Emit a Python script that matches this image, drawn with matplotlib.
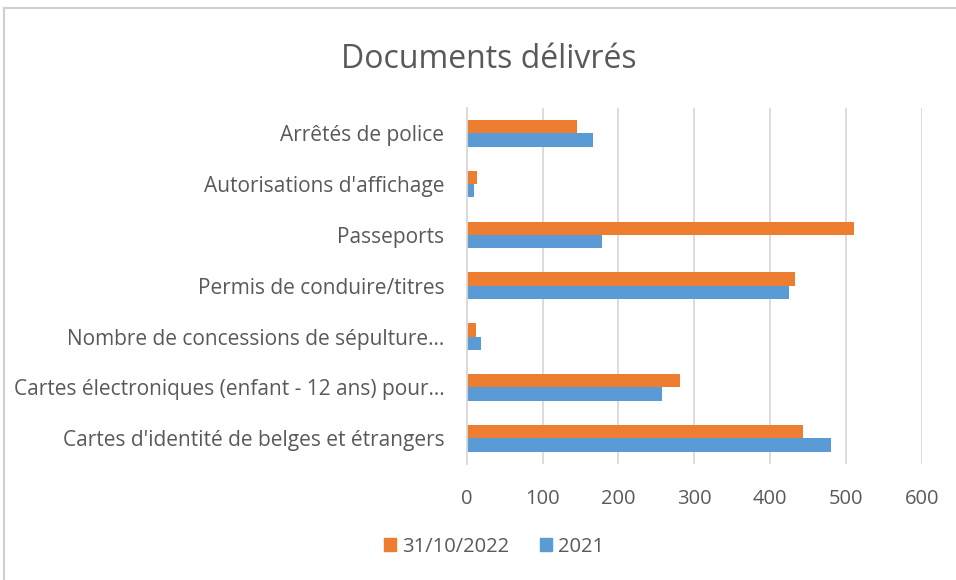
import matplotlib.pyplot as plt
import numpy as np
from matplotlib.lines import Line2D
from matplotlib.patches import Patch

# Categories, bottom to top (as drawn on the y axis)
categories = [
    "Cartes d'identité de belges et étrangers",
    "Cartes électroniques (enfant - 12 ans) pour…",
    "Nombre de concessions de sépulture…",
    "Permis de conduire/titres",
    "Passeports",
    "Autorisations d'affichage",
    "Arrêtés de police",
]
values_2022 = [443, 281, 12, 433, 511, 13, 146]
values_2021 = [480, 257, 19, 425, 178, 10, 166]
series_names = ["31/10/2022", "2021"]
x_ticks = [0, 100, 200, 300, 400, 500, 600]

orange = "#ED7D31"
blue = "#5B9BD5"
text_col = "#595959"
grid_col = "#D9D9D9"

plt.rcParams['font.family'] = ['Open Sans', 'DejaVu Sans']

fig = plt.figure(figsize=(9.56, 5.8), dpi=100)
ax = fig.add_axes([0.4882, 0.2005, 0.4759, 0.6135])

y = np.arange(len(categories))
h = 0.2625
ax.barh(y + h / 2, values_2022, h, color=orange, label=series_names[0])
ax.barh(y - h / 2, values_2021, h, color=blue, label=series_names[1])

ax.set_xlim(0, 600)
ax.set_ylim(-0.5, len(categories) - 0.5)
ax.set_xticks(x_ticks)
ax.set_yticks(y)
ax.set_yticklabels(categories)
ax.tick_params(axis='y', length=0, labelsize=15, colors=text_col, pad=16)
ax.tick_params(axis='x', length=0, labelsize=14.5, colors=text_col, pad=18)
ax.grid(axis='x', color=grid_col, linewidth=1.3)
ax.set_axisbelow(True)
for side in ['top', 'right', 'bottom']:
    ax.spines[side].set_visible(False)
ax.spines['left'].set_color(grid_col)
ax.spines['left'].set_linewidth(1.3)

fig.text(0.511, 0.898, "Documents délivrés", ha='center', va='center',
         fontsize=23, color=text_col)

handles = [Patch(color=orange), Patch(color=blue)]
fig.legend(handles, series_names, loc='center', bbox_to_anchor=(0.517, 0.057),
           ncol=2, frameon=False, fontsize=14.5, labelcolor=text_col,
           handlelength=0.6, handleheight=0.6, handletextpad=0.3,
           columnspacing=1.5)

# chart area border (top and left visible in the reference)
fig.add_artist(Line2D([0.004, 1.0], [0.986, 0.986], color="#D0D0D0", lw=1.5))
fig.add_artist(Line2D([0.004, 0.004], [0.0, 0.986], color="#D0D0D0", lw=1.5))

fig.savefig("out.png", dpi=100)
